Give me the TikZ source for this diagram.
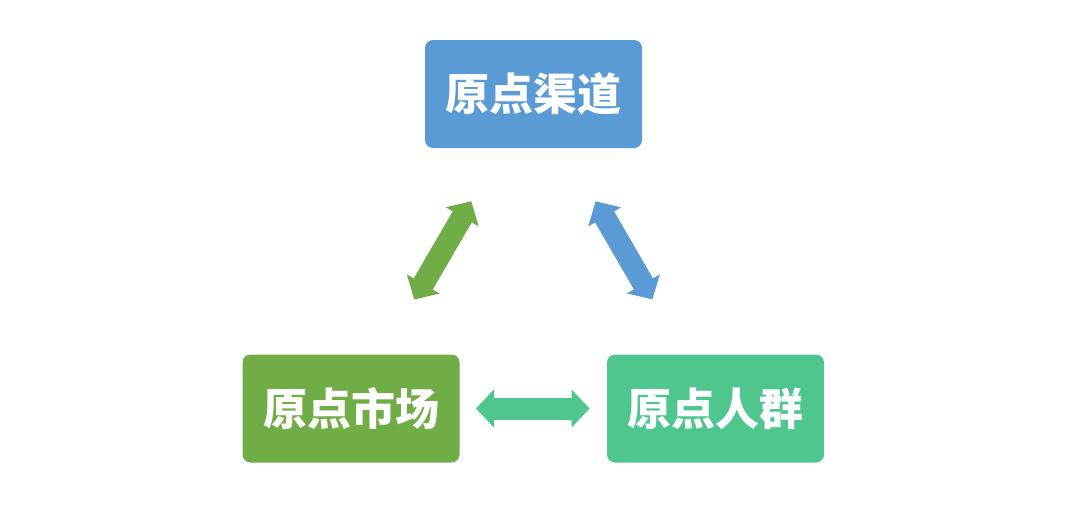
\documentclass[tikz,border=0pt]{standalone}
\usepackage{fontspec}
\setmainfont{Noto Sans CJK SC}
\usetikzlibrary{arrows.meta}
\definecolor{chanblue}{HTML}{5B9BD5}
\definecolor{mktgreen}{HTML}{70AD47}
\definecolor{crowdteal}{HTML}{4FC68D}

\begin{document}
\begin{tikzpicture}[x=0.5pt, y=-0.5pt,
  box/.style={rectangle, rounded corners=4pt, minimum width=108.5pt, minimum height=54pt, text=white, font=\fontsize{22pt}{26pt}\selectfont\bfseries, inner sep=0pt},
  link/.style={{Triangle[length=9pt,width=18.5pt]}-{Triangle[length=9pt,width=18.5pt]}, line width=11pt}
]
\useasboundingbox (0,0) rectangle (1080,516);
\node[box, fill=chanblue] (channel) at (533.5,94) {原点渠道};
\node[box, fill=mktgreen] (market) at (351,408.5) {原点市场};
\node[box, fill=crowdteal] (crowd) at (715.5,408.5) {原点人群};

\draw[link, mktgreen, shorten <=63pt, shorten >=62pt] (market.center) -- (channel.center);
\draw[link, chanblue, shorten <=62pt, shorten >=63pt] (channel.center) -- (crowd.center);
\draw[link, crowdteal, shorten <=8pt, shorten >=8.5pt] (market.east) -- (crowd.west);
\end{tikzpicture}
\end{document}
